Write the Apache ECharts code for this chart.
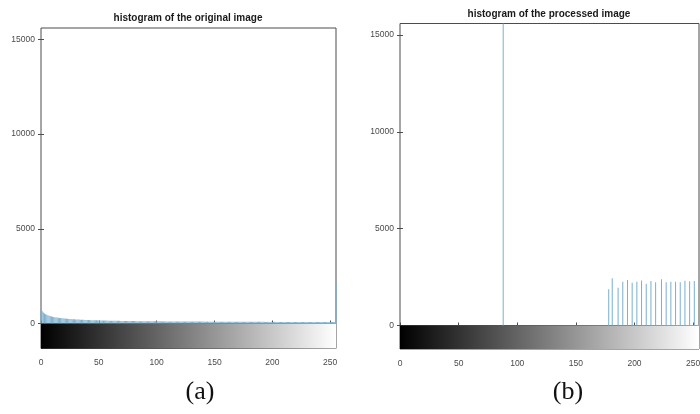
<!DOCTYPE html>
<html>
<head>
<meta charset="utf-8">
<script src="https://cdn.jsdelivr.net/npm/echarts@6/dist/echarts.min.js"></script>
<style>html,body{margin:0;padding:0;background:#fff}#c{width:700px;height:414px}</style>
</head>
<body>
<div id="c"></div>
<script>
// ---- data ----
var titles = ['histogram of the original image', 'histogram of the processed image'];
var captions = ['(a)', '(b)'];
var xTicks = [0, 50, 100, 150, 200, 250];
var yTicks = [0, 5000, 10000, 15000];
var grayMin = 0, grayMax = 255;
var countMax = 15600;

// counts of the original image, gray levels 0..255
var originalCounts = [
 720,650,575,530,490,460,440,415,395,375,360,345,335,322,312,300,
 296,288,280,272,268,259,254,247,242,238,232,228,224,219,215,212,
 208,205,201,198,196,192,190,186,184,181,179,176,175,172,170,168,
 166,165,162,161,159,158,156,155,153,152,150,149,148,146,145,144,
 143,142,141,139,140,137,136,137,134,133,134,131,130,131,129,128,
 128,126,127,125,124,125,123,122,123,121,120,121,119,118,119,117,
 117,116,117,115,114,116,113,113,114,112,111,113,110,110,111,109,
 109,108,110,107,107,108,106,106,107,105,105,106,104,104,105,103,
 103,104,102,102,103,101,101,102,100,100,101,99,99,100,98,98,
 99,97,98,97,96,98,96,95,97,95,95,96,94,94,95,93,
 94,93,92,94,92,92,93,91,91,92,90,90,92,90,89,91,
 89,89,90,88,88,90,88,87,89,87,87,88,86,86,88,86,
 86,87,85,85,87,85,84,86,84,84,86,84,83,85,83,83,
 85,83,82,84,82,82,84,82,81,83,81,81,83,81,80,82,
 80,80,82,80,79,81,79,79,81,79,78,80,78,78,80,78,
 77,79,77,77,79,77,76,78,76,76,78,76,75,78,85,2180
];
// processed image: occupied gray levels and their counts
var processedLevels = [88, 178, 181, 186, 190, 194, 198, 202, 206, 210, 214, 218, 223, 227, 231, 235, 239, 243, 247, 251];
var processedCounts = [16000, 1870, 2440, 1950, 2260, 2350, 2210, 2260, 2330, 2160, 2300, 2230, 2390, 2230, 2260, 2260, 2230, 2310, 2280, 2300];

// ---- chart ----
var chart = echarts.init(document.getElementById('c'), null, {renderer: 'canvas'});
var labelFont = {fontFamily: "'Liberation Sans',Arial,sans-serif", fontSize: 8.5, color: '#4a4a4a'};
var border = '#4d4d4d';
var stemColor = '#7aafcc';

var panels = [
  {main: {left: 41, top: 28, width: 295, height: 295.5}, cb: {left: 41, top: 323.5, width: 295, height: 25}, tx: 188, ty: 13, cx: 200, cy: 379},
  {main: {left: 400, top: 23.5, width: 299, height: 302}, cb: {left: 400, top: 325.5, width: 299, height: 23.5}, tx: 549, ty: 9, cx: 568, cy: 379}
];

var grids = [], xAxes = [], yAxes = [], series = [], titleList = [];
var xData = [
  originalCounts.map(function (v, i) { return [i, v]; }),
  processedLevels.map(function (g, i) { return [g, processedCounts[i]]; })
];

panels.forEach(function (p, k) {
  var gMain = grids.length;
  grids.push(Object.assign({show: true, borderColor: border, borderWidth: 1, backgroundColor: '#fff', outerBoundsMode: 'none', containLabel: false}, p.main));
  var gCb = grids.length;
  grids.push(Object.assign({show: true, borderColor: border, borderWidth: 1, outerBoundsMode: 'none', containLabel: false}, p.cb));

  var xBase = {type: 'value', min: grayMin, max: grayMax, interval: 50,
    axisLine: {show: false}, splitLine: {show: false},
    axisTick: {show: true, inside: true, length: 3, customValues: xTicks, lineStyle: {color: border}},
    axisLabel: {show: false}};
  var xMain = xAxes.length;
  xAxes.push(Object.assign({}, xBase, {gridIndex: gMain, position: 'bottom'}));
  xAxes.push(Object.assign({}, xBase, {gridIndex: gMain, position: 'top'}));
  var xCb = xAxes.length;
  xAxes.push(Object.assign({}, xBase, {gridIndex: gCb, position: 'bottom',
    axisLabel: Object.assign({show: true, margin: 10, customValues: xTicks,
      formatter: function (v) { return v % 50 === 0 ? String(v) : ''; }}, labelFont)}));

  var yMain = yAxes.length;
  yAxes.push({type: 'value', gridIndex: gMain, position: 'left', min: 0, max: countMax, interval: 5000,
    axisLine: {show: false}, splitLine: {show: false},
    axisTick: {show: true, inside: true, length: 3, customValues: yTicks, lineStyle: {color: border}},
    axisLabel: Object.assign({show: true, margin: 6, customValues: yTicks,
      formatter: function (v) { return v % 5000 === 0 ? String(v) : ''; }}, labelFont)});
  yAxes.push({type: 'value', gridIndex: gMain, position: 'right', min: 0, max: countMax, interval: 5000,
    axisLine: {show: false}, splitLine: {show: false},
    axisTick: {show: true, inside: true, length: 3, customValues: yTicks, lineStyle: {color: border}},
    axisLabel: {show: false}});
  var yCb = yAxes.length;
  yAxes.push({type: 'value', gridIndex: gCb, position: 'left', min: 0, max: 1,
    axisLine: {show: false}, splitLine: {show: false}, axisTick: {show: false}, axisLabel: {show: false}});
  yAxes.push({type: 'value', gridIndex: gCb, position: 'right', min: 0, max: 1, interval: 0.5,
    axisLine: {show: false}, splitLine: {show: false},
    axisTick: {show: true, inside: true, length: 3, customValues: [0.5], lineStyle: {color: border}},
    axisLabel: {show: false}});

  series.push({type: 'bar', xAxisIndex: xMain, yAxisIndex: yMain, data: xData[k],
    barWidth: 1, clip: true, silent: true, animation: false,
    itemStyle: {color: stemColor}});
  series.push({type: 'line', xAxisIndex: xCb, yAxisIndex: yCb, data: [[grayMin, 0]], showSymbol: false,
    silent: true, animation: false, lineStyle: {opacity: 0},
    markArea: {silent: true, itemStyle: {color: new echarts.graphic.LinearGradient(0, 0, 1, 0,
      [{offset: 0, color: '#000000'}, {offset: 1, color: '#ffffff'}])},
      data: [[{coord: [grayMin, 0]}, {coord: [grayMax, 1]}]]}});

  titleList.push({text: titles[k], left: p.tx, top: p.ty, textAlign: 'center', padding: 0,
    textStyle: {fontFamily: "'Liberation Sans',Arial,sans-serif", fontSize: 10, fontWeight: 'bold', color: '#1a1a1a'}});
  titleList.push({text: captions[k], left: p.cx, top: p.cy, textAlign: 'center', padding: 0,
    textStyle: {fontFamily: "'Liberation Serif','Times New Roman',serif", fontSize: 26, fontWeight: 'normal', color: '#111'}});
});

chart.setOption({
  animation: false,
  backgroundColor: '#fff',
  title: titleList,
  grid: grids,
  xAxis: xAxes,
  yAxis: yAxes,
  series: series
});
</script>
</body>
</html>
